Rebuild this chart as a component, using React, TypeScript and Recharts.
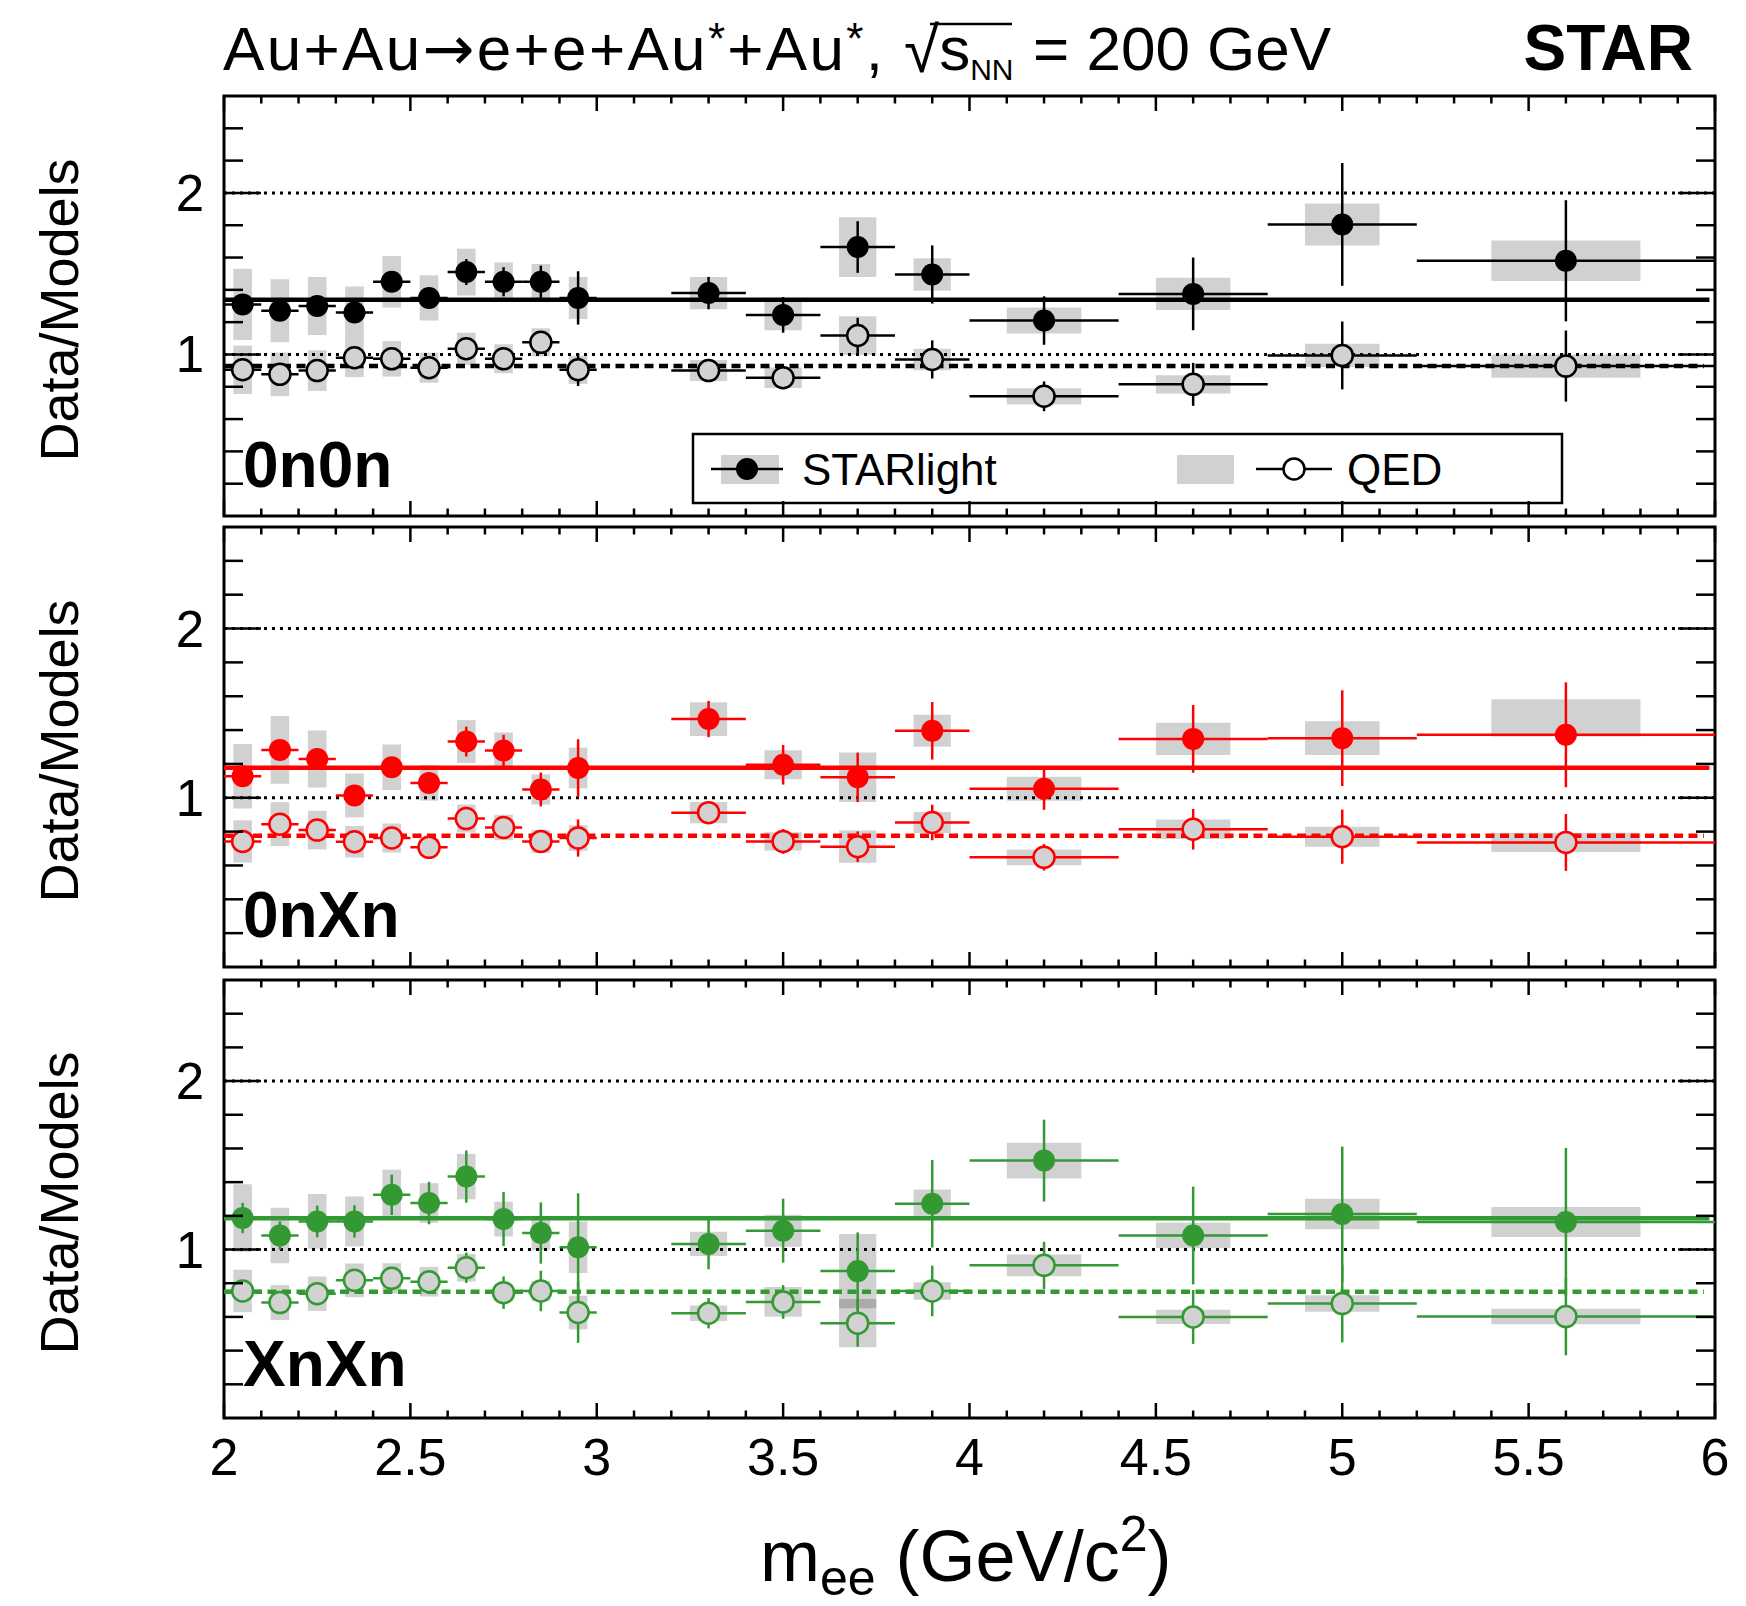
import React from 'react'
import { ComposedChart, ErrorBar, ReferenceArea, ReferenceLine, Scatter, XAxis, YAxis } from 'recharts'

const FONT = '"Liberation Sans", Arial, Helvetica, sans-serif'
const W = 1746
const H = 1606
const PLOT_LEFT = 224
const PLOT_RIGHT = 1715
const PAD_TOP = 10

// m_ee bin centres (GeV/c^2) and half bin widths
const MASS = [2.05, 2.15, 2.25, 2.35, 2.45, 2.55, 2.65, 2.75, 2.85, 2.95, 3.3, 3.5, 3.7, 3.9, 4.2, 4.6, 5.0, 5.6]
const HALF_BIN = [0.05, 0.05, 0.05, 0.05, 0.05, 0.05, 0.05, 0.05, 0.05, 0.05, 0.1, 0.1, 0.1, 0.1, 0.2, 0.2, 0.2, 0.4]

const X_MAJOR = [2, 2.5, 3, 3.5, 4, 4.5, 5, 5.5, 6]
const X_LABELS = ['2', '2.5', '3', '3.5', '4', '4.5', '5', '5.5', '6']
const X_TICKS = Array.from({ length: 41 }, (_, i) => 2 + i * 0.1)
const Y_TICKS = [0.2, 0.4, 0.6, 0.8, 1, 1.2, 1.4, 1.6, 1.8, 2, 2.2, 2.4]
const Y_MAJOR = [1, 2]
const Y_LABELS = ['1', '2']

// 0n0n
const STL_0N0N = [1.31, 1.27, 1.3, 1.26, 1.45, 1.35, 1.51, 1.45, 1.45, 1.35, 1.38, 1.245, 1.665, 1.495, 1.21, 1.375, 1.805, 1.58]
const STL_0N0N_STAT = [0.04, 0.04, 0.04, 0.04, 0.05, 0.05, 0.08, 0.09, 0.1, 0.165, 0.1, 0.11, 0.16, 0.18, 0.15, 0.225, 0.38, 0.375]
const STL_0N0N_SYS = [0.22, 0.195, 0.18, 0.16, 0.16, 0.14, 0.145, 0.12, 0.11, 0.13, 0.1, 0.095, 0.185, 0.1, 0.08, 0.1, 0.13, 0.125]
const QED_0N0N = [0.905, 0.877, 0.9, 0.98, 0.973, 0.918, 1.035, 0.973, 1.075, 0.905, 0.9, 0.856, 1.117, 0.969, 0.741, 0.815, 0.994, 0.928]
const QED_0N0N_STAT = [0.04, 0.04, 0.04, 0.04, 0.04, 0.04, 0.05, 0.05, 0.05, 0.1, 0.05, 0.05, 0.11, 0.118, 0.092, 0.133, 0.21, 0.22]
const QED_0N0N_SYS = [0.15, 0.135, 0.126, 0.12, 0.11, 0.093, 0.1, 0.09, 0.087, 0.087, 0.065, 0.064, 0.12, 0.067, 0.05, 0.056, 0.072, 0.072]
const FIT_0N0N = { stl: 1.339, qed: 0.928 }

// 0nXn
const STL_0NXN = [1.127, 1.283, 1.229, 1.014, 1.18, 1.088, 1.332, 1.279, 1.049, 1.176, 1.465, 1.195, 1.121, 1.396, 1.053, 1.348, 1.352, 1.372]
const STL_0NXN_STAT = [0.05, 0.05, 0.05, 0.05, 0.05, 0.05, 0.088, 0.093, 0.1, 0.17, 0.107, 0.117, 0.146, 0.17, 0.124, 0.2, 0.283, 0.31]
const STL_0NXN_SYS: (number | [number, number])[] = [0.19, 0.2, 0.168, 0.13, 0.135, 0.105, 0.127, 0.107, 0.089, 0.12, 0.1, 0.086, 0.146, 0.094, 0.071, 0.096, 0.1, [0.01, 0.21]]
const QED_0NXN = [0.742, 0.844, 0.809, 0.74, 0.762, 0.707, 0.877, 0.824, 0.742, 0.762, 0.912, 0.742, 0.711, 0.854, 0.648, 0.814, 0.77, 0.736]
const QED_0NXN_STAT = [0.04, 0.04, 0.04, 0.04, 0.04, 0.04, 0.05, 0.05, 0.05, 0.11, 0.05, 0.073, 0.09, 0.105, 0.078, 0.12, 0.16, 0.168]
const QED_0NXN_SYS = [0.125, 0.13, 0.114, 0.093, 0.086, 0.05, 0.083, 0.075, 0.068, 0.076, 0.063, 0.054, 0.095, 0.062, 0.047, 0.057, 0.059, 0.057]
const FIT_0NXN = { stl: 1.178, qed: 0.775 }

// XnXn
const STL_XNXN = [1.187, 1.083, 1.167, 1.167, 1.325, 1.276, 1.433, 1.181, 1.098, 1.014, 1.033, 1.112, 0.872, 1.272, 1.528, 1.083, 1.211, 1.163]
const STL_XNXN_STAT = [0.09, 0.084, 0.094, 0.096, 0.12, 0.126, 0.155, 0.16, 0.182, 0.32, 0.15, 0.19, 0.23, 0.26, 0.243, 0.29, 0.4, 0.44]
const STL_XNXN_SYS = [0.2, 0.165, 0.162, 0.148, 0.149, 0.118, 0.135, 0.103, 0.101, 0.153, 0.072, 0.095, 0.22, 0.084, 0.106, 0.076, 0.09, 0.089]
const QED_XNXN = [0.754, 0.685, 0.738, 0.817, 0.829, 0.809, 0.892, 0.744, 0.754, 0.626, 0.622, 0.689, 0.563, 0.754, 0.906, 0.6, 0.679, 0.602]
const QED_XNXN_STAT = [0.05, 0.05, 0.05, 0.05, 0.05, 0.05, 0.09, 0.096, 0.12, 0.18, 0.09, 0.1, 0.14, 0.15, 0.14, 0.16, 0.23, 0.23]
const QED_XNXN_SYS = [0.126, 0.104, 0.102, 0.1, 0.09, 0.088, 0.082, 0.05, 0.06, 0.1, 0.046, 0.088, 0.143, 0.052, 0.064, 0.042, 0.049, 0.046]
const FIT_XNXN = { stl: 1.185, qed: 0.75 }

type Pt = { x: number; y: number; ex: number; ey: number; lo: number; hi: number; hw: number }

function buildPoints(vals: number[], stat: number[], sys: (number | [number, number])[]): Pt[] {
  return MASS.map((x, i) => {
    const s = sys[i]
    const [down, up] = Array.isArray(s) ? s : [s, s]
    return { x, y: vals[i], ex: HALF_BIN[i], ey: stat[i], lo: vals[i] - down, hi: vals[i] + up, hw: HALF_BIN[i] / 2 }
  })
}

const PANELS = [
  {
    name: '0n0n', color: '#000000', top: 96, height: 420, showX: false,
    stl: buildPoints(STL_0N0N, STL_0N0N_STAT, STL_0N0N_SYS),
    qed: buildPoints(QED_0N0N, QED_0N0N_STAT, QED_0N0N_SYS),
    fit: FIT_0N0N, labelY: 487,
  },
  {
    name: '0nXn', color: '#ff0000', top: 527, height: 440, showX: false,
    stl: buildPoints(STL_0NXN, STL_0NXN_STAT, STL_0NXN_SYS),
    qed: buildPoints(QED_0NXN, QED_0NXN_STAT, QED_0NXN_SYS),
    fit: FIT_0NXN, labelY: 937,
  },
  {
    name: 'XnXn', color: '#339933', top: 980, height: 438, showX: true,
    stl: buildPoints(STL_XNXN, STL_XNXN_STAT, STL_XNXN_SYS),
    qed: buildPoints(QED_XNXN, QED_XNXN_STAT, QED_XNXN_SYS),
    fit: FIT_XNXN, labelY: 1386,
  },
]

const BOX_FILL = '#000000'
const BOX_OPACITY = 0.18
const AXIS_H = 90
const MARKER_R = 11

function Panel({ p }: { p: (typeof PANELS)[number] }) {
  const plotTop = PAD_TOP
  const plotBottom = PAD_TOP + p.height

  const xTick = (props: any) => {
    const { x, payload } = props
    const v = payload.value as number
    const major = Math.abs(v * 2 - Math.round(v * 2)) < 1e-6
    const len = major ? 15 : 7.5
    const idx = X_MAJOR.findIndex((m) => Math.abs(m - v) < 1e-6)
    return (
      <g>
        <line x1={x} x2={x} y1={plotBottom} y2={plotBottom - len} stroke="#000" strokeWidth={2.5} />
        <line x1={x} x2={x} y1={plotTop} y2={plotTop + len} stroke="#000" strokeWidth={2.5} />
        {p.showX && idx >= 0 && (
          <text x={x} y={plotBottom + 57} textAnchor="middle" fontSize={52} fontFamily={FONT} fill="#000">
            {X_LABELS[idx]}
          </text>
        )}
      </g>
    )
  }

  const yTick = (props: any) => {
    const { y, payload } = props
    const v = payload.value as number
    const idx = Y_MAJOR.findIndex((m) => Math.abs(m - v) < 1e-6)
    const len = idx >= 0 ? 37 : 19
    return (
      <g>
        <line x1={PLOT_LEFT} x2={PLOT_LEFT + len} y1={y} y2={y} stroke="#000" strokeWidth={2.5} />
        <line x1={PLOT_RIGHT - len} x2={PLOT_RIGHT} y1={y} y2={y} stroke="#000" strokeWidth={2.5} />
        {idx >= 0 && (
          <text x={204} y={y + 18} textAnchor="end" fontSize={51} fontFamily={FONT} fill="#000">
            {Y_LABELS[idx]}
          </text>
        )}
      </g>
    )
  }

  const filled = (s: any) => <circle cx={s.cx} cy={s.cy} r={MARKER_R} fill={p.color} />
  const open = (s: any) => (
    <circle cx={s.cx} cy={s.cy} r={MARKER_R - 0.5} fill="#d2d2d2" stroke={p.color} strokeWidth={2.5} />
  )

  return (
    <div style={{ position: 'absolute', left: 0, top: p.top - PAD_TOP }}>
      <ComposedChart
        width={W}
        height={PAD_TOP + p.height + AXIS_H}
        margin={{ top: PAD_TOP, right: W - PLOT_RIGHT, bottom: 0, left: 0 }}
      >
        <XAxis
          type="number"
          dataKey="x"
          domain={[2, 6]}
          ticks={X_TICKS}
          interval={0}
          allowDataOverflow
          axisLine={false}
          tickLine={false}
          tickSize={0}
          tickMargin={0}
          height={AXIS_H}
          tick={xTick}
        />
        <YAxis
          type="number"
          dataKey="y"
          domain={[0, 2.6]}
          ticks={Y_TICKS}
          interval={0}
          allowDataOverflow
          axisLine={false}
          tickLine={false}
          tickSize={0}
          tickMargin={0}
          width={PLOT_LEFT}
          tick={yTick}
        />
        {[...p.qed, ...p.stl].map((d, i) => (
          <ReferenceArea
            key={`box-${i}`}
            x1={d.x - d.hw}
            x2={d.x + d.hw}
            y1={d.lo}
            y2={d.hi}
            fill={BOX_FILL}
            fillOpacity={BOX_OPACITY}
            stroke="none"
            ifOverflow="visible"
          />
        ))}
        <ReferenceLine y={1} stroke="#000" strokeWidth={3} strokeDasharray="3 5" />
        <ReferenceLine y={2} stroke="#000" strokeWidth={3} strokeDasharray="3 5" />
        <ReferenceLine
          segment={[{ x: 2, y: p.fit.stl }, { x: 5.985, y: p.fit.stl }]}
          stroke={p.color}
          strokeWidth={4.5}
        />
        <ReferenceLine
          segment={[{ x: 2, y: p.fit.qed }, { x: 5.97, y: p.fit.qed }]}
          stroke={p.color}
          strokeWidth={4.5}
          strokeDasharray="9 5.5"
        />
        <Scatter data={p.qed} dataKey="y" shape={open} isAnimationActive={false}>
          <ErrorBar dataKey="ex" direction="x" width={0} stroke={p.color} strokeWidth={2.5} />
          <ErrorBar dataKey="ey" direction="y" width={0} stroke={p.color} strokeWidth={2.5} />
        </Scatter>
        <Scatter data={p.stl} dataKey="y" shape={filled} isAnimationActive={false}>
          <ErrorBar dataKey="ex" direction="x" width={0} stroke={p.color} strokeWidth={2.5} />
          <ErrorBar dataKey="ey" direction="y" width={0} stroke={p.color} strokeWidth={2.5} />
        </Scatter>
        <ReferenceArea x1={2} x2={6} y1={0} y2={2.6} fill="none" stroke="#000" strokeWidth={3} ifOverflow="visible" />
      </ComposedChart>
    </div>
  )
}

function Overlay() {
  return (
    <svg width={W} height={H} style={{ position: 'absolute', left: 0, top: 0, pointerEvents: 'none' }} fontFamily={FONT}>
      {/* title */}
      <text x={223} y={70} fontSize={62} fill="#000" textLength={660} lengthAdjust="spacing">
        Au+Au<tspan fontFamily='"DejaVu Sans"'>→</tspan>e+e+Au<tspan fontSize={44} dy={-16}>*</tspan>
        <tspan fontSize={62} dy={16}>+Au</tspan>
        <tspan fontSize={44} dy={-16}>*</tspan>
        <tspan fontSize={62} dy={16}>,</tspan>
      </text>
      <text x={904} y={72} fontSize={64} fill="#000">
        √<tspan fontSize={62} dy={-2}>s</tspan>
        <tspan fontSize={30} dy={10}>NN</tspan>
      </text>
      <line x1={930} x2={1012} y1={24} y2={24} stroke="#000" strokeWidth={2.5} />
      <text x={1033} y={70} fontSize={62} fill="#000">= 200 GeV</text>
      <text x={1693} y={70} fontSize={64} fontWeight="bold" textAnchor="end" fill="#000">STAR</text>

      {PANELS.map((p) => (
        <g key={p.name}>
          <text
            transform={`translate(78, ${p.top + p.height / 2 + 4}) rotate(-90)`}
            textAnchor="middle"
            fontSize={54}
            fill="#000"
          >
            Data/Models
          </text>
          <text x={243} y={p.labelY} fontSize={64} fontWeight="bold" fill="#000">{p.name}</text>
        </g>
      ))}

      {/* legend */}
      <rect x={693} y={434} width={869} height={69} fill="none" stroke="#000" strokeWidth={2.5} />
      <rect x={721} y={455} width={58} height={29} fill={BOX_FILL} fillOpacity={BOX_OPACITY} />
      <line x1={711} x2={783} y1={469} y2={469} stroke="#000" strokeWidth={2.5} />
      <circle cx={747} cy={469} r={MARKER_R} fill="#000" />
      <text x={802} y={485} fontSize={44} fill="#000">STARlight</text>
      <rect x={1177} y={455} width={57} height={29} fill={BOX_FILL} fillOpacity={BOX_OPACITY} />
      <line x1={1256} x2={1332} y1={469} y2={469} stroke="#000" strokeWidth={2.5} />
      <circle cx={1294} cy={469} r={MARKER_R - 0.5} fill="#fff" stroke="#000" strokeWidth={2.5} />
      <text x={1347} y={485} fontSize={44} fill="#000">QED</text>

      {/* x-axis title */}
      <text x={760} y={1581} fontSize={72} fill="#000">
        m<tspan fontSize={50} dy={14}>ee</tspan>
        <tspan fontSize={72} dy={-14}> (GeV/c</tspan>
        <tspan fontSize={50} dy={-30}>2</tspan>
        <tspan fontSize={72} dy={30}>)</tspan>
      </text>
    </svg>
  )
}

export default function App() {
  return (
    <div style={{ position: 'absolute', left: 0, top: 0, width: W, height: H, background: '#fff', fontFamily: FONT }}>
      {PANELS.map((p) => (
        <Panel key={p.name} p={p} />
      ))}
      <Overlay />
    </div>
  )
}
